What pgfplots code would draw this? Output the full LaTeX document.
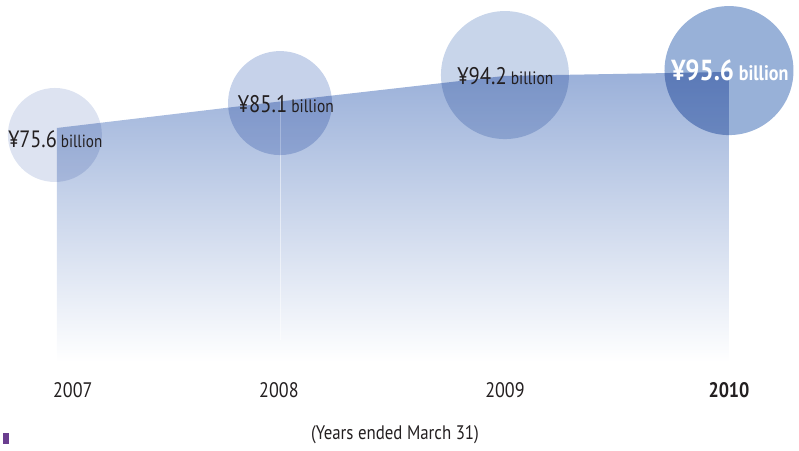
\documentclass[border=0pt]{standalone}
\usepackage{pgfplots}
\pgfplotsset{compat=1.18}
\usepackage{fontspec}
\setmainfont[FakeStretch=0.86]{PT Sans}
\definecolor{areatop}{HTML}{9AB0D9}
\definecolor{areamid}{HTML}{C4D1EA}
\definecolor{c07}{HTML}{DDE3F1}
\definecolor{c08}{HTML}{C6D2EA}
\definecolor{c09}{HTML}{C8D5EA}
\definecolor{c10}{HTML}{98B1D8}
\definecolor{txt}{HTML}{231F20}
\definecolor{purp}{HTML}{6A3D8F}
\begin{document}
\begin{tikzpicture}
\begin{axis}[
  scale only axis, width=399.5pt, height=222pt,
  xmin=2006.746, xmax=2010.3125, ymin=-37.25, ymax=121.3,
  axis lines=none, clip=false]
\path (rel axis cs:0,0) rectangle (rel axis cs:1,1);
% area
\addplot[draw=none, top color=areatop, middle color=areamid, bottom color=white]
  coordinates {(2007,75.6)(2008,85.1)(2009,94.2)(2010,95.6)(2010,-8)(2007,-8)} -- cycle;
\addplot[ycomb, draw=white, opacity=0.5, line width=0.5pt, mark=none] coordinates {(2008,85.1)};
% circles
\addplot[only marks, mark=*, mark size=23.5pt, mark options={fill=c07, draw opacity=0}, blend mode=multiply] coordinates {(2006.991,73.1)};
\addplot[only marks, mark=*, mark size=26pt, mark options={fill=c08, draw opacity=0}, blend mode=multiply] coordinates {(2007.996,84.5)};
\addplot[only marks, mark=*, mark size=32pt, mark options={fill=c09, draw opacity=0}, blend mode=multiply] coordinates {(2009.0,94.5)};
\addplot[only marks, mark=*, mark size=32.25pt, mark options={fill=c10, draw opacity=0}, blend mode=multiply] coordinates {(2010.0,96.1)};
% value labels
\addplot[only marks, mark=none, blend mode=normal, point meta=explicit symbolic,
  nodes near coords, nodes near coords align={anchor=base},
  every node near coord/.append style={inner sep=0pt, text=txt}]
  coordinates {
  (2006.993,68.6) [{\fontsize{11.8}{11.8}\selectfont ¥75.6\,\fontsize{8.8}{8.8}\selectfont billion}]
  (2008.022,81.3) [{\fontsize{12}{12}\selectfont ¥85.1\,\fontsize{9}{9}\selectfont billion}]
  (2009.002,91.3) [{\fontsize{12}{12}\selectfont ¥94.2\,\fontsize{9}{9}\selectfont billion}]
  (2010.004,92.6) [{\color{white}\bfseries\fontsize{14.5}{14.5}\selectfont ¥95.6\,\fontsize{10.5}{10.5}\selectfont billion}]
  };
% year labels
\node[text=txt, anchor=base] at (axis cs:2007.071,-20.8) {\fontsize{10.5}{10.5}\selectfont 2007};
\node[text=txt, anchor=base] at (axis cs:2007.991,-20.8) {\fontsize{10.5}{10.5}\selectfont 2008};
\node[text=txt, anchor=base] at (axis cs:2009.0,-20.8) {\fontsize{10.5}{10.5}\selectfont 2009};
\node[text=txt, anchor=base] at (axis cs:2010.0,-20.8) {\bfseries\fontsize{10.5}{10.5}\selectfont 2010};
\node[text=txt, anchor=base] at (axis cs:2008.509,-35.8) {\fontsize{9.8}{9.8}\selectfont (Years ended March 31)};
\fill[purp] (axis cs:2006.760,-37.25) rectangle (axis cs:2006.786,-33.3);
\end{axis}
\end{tikzpicture}
\end{document}
